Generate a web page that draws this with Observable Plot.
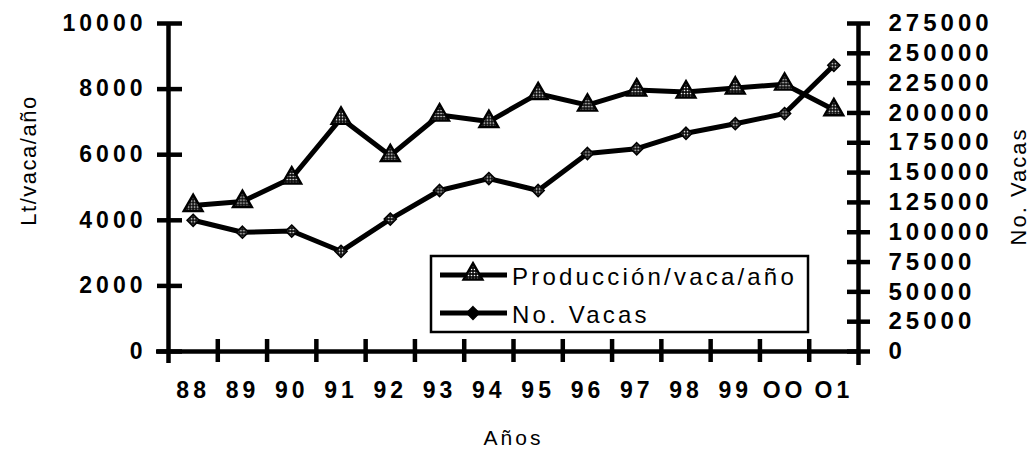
<!DOCTYPE html>
<html><head><meta charset="utf-8">
<script src="https://cdn.jsdelivr.net/npm/d3@7"></script>
<script src="https://cdn.jsdelivr.net/npm/@observablehq/plot@0.6"></script>
<style>
body{margin:0;background:#fff;}
#chart{width:1035px;height:449px;}
svg{font-family:"Liberation Sans",Arial,sans-serif;}
g[aria-label="y-axis tick label"] text, g[aria-label="x-axis tick label"] text{letter-spacing:4px;}
g[aria-description="ytitle"] text{letter-spacing:1.5px;}
g[aria-description="rtitle"] text{letter-spacing:2px;}
g[aria-description="xtitle"] text{letter-spacing:3px;}
</style></head><body><div id="chart"></div>
<script>
// ---- data ----
const years = ["88","89","90","91","92","93","94","95","96","97","98","99","OO","O1"];
const produccion = [4450,4570,5290,7110,5970,7210,7010,7860,7510,7970,7910,8030,8150,7370];
const vacas = [110000,100000,101000,84000,111000,135000,145000,135000,166000,170000,183000,191000,199500,240000];
const leftTicks = [0,2000,4000,6000,8000,10000];
const rightTicks = [0,25000,50000,75000,100000,125000,150000,175000,200000,225000,250000,275000];
const seriesNames = ["Producción/vaca/año","No. Vacas"];
const leftTitle = "Lt/vaca/año", rightTitle = "No. Vacas", xTitle = "Años";

const leftMax = 10000, rightMax = 275000;
const ratio = rightMax / leftMax;
const rows = years.map((y, i) => ({i, year: y, prod: produccion[i], vac: vacas[i] / ratio}));
const bounds = d3.range(years.length + 1).map(k => k - 0.5);

const diamond = {draw(ctx, size){const r = Math.sqrt(size/2); ctx.moveTo(0,-r); ctx.lineTo(r,0); ctx.lineTo(0,r); ctx.lineTo(-r,0); ctx.closePath();}};
const AX = 4.5;

const chart = Plot.plot({
  width: 1035, height: 449,
  marginLeft: 168, marginRight: 177, marginTop: 23, marginBottom: 98,
  x: {type: "linear", domain: [-0.5, years.length - 0.5], axis: null, label: null},
  y: {domain: [0, leftMax], axis: null, label: null},
  style: {background: "#fff", color: "#000", overflow: "visible"},
  marks: [
    Plot.ruleY([0], {stroke: "#000", strokeWidth: AX, insetLeft: -12, insetRight: -2}),
    Plot.ruleX([-0.5], {y1: leftMax, y2: 0, stroke: "#000", strokeWidth: AX, insetBottom: -12, insetTop: -1}),
    Plot.ruleX([years.length - 0.5], {y1: leftMax, y2: 0, stroke: "#000", strokeWidth: AX, insetBottom: -14, insetTop: -1}),
    Plot.axisY(leftTicks, {anchor: "left", label: null, tickSize: 25, dx: 14, tickPadding: 11, strokeWidth: AX,
      fontSize: 23, fontWeight: "bold", tickFormat: d => String(d)}),
    Plot.axisY(rightTicks.map(v => v / ratio), {anchor: "right", label: null, tickSize: 23, dx: -12, tickPadding: 19, strokeWidth: AX,
      fontSize: 24, fontWeight: "bold", tickFormat: d => String(Math.round(d * ratio))}),
    Plot.axisX(bounds.slice(1, -1), {anchor: "bottom", label: null, tickSize: 23, dy: -12, strokeWidth: AX, tickFormat: () => ""}),
    Plot.axisX(d3.range(years.length), {anchor: "bottom", label: null, tickSize: 0, tickPadding: 30,
      fontSize: 23, fontWeight: "bold", tickFormat: i => years[i]}),
    Plot.line(rows, {x: "i", y: "prod", stroke: "#000", strokeWidth: 5}),
    Plot.line(rows, {x: "i", y: "vac", stroke: "#000", strokeWidth: 5}),
    Plot.dot(rows, {x: "i", y: "vac", symbol: diamond, r: 4.8, fill: "url(#dots)", stroke: "#000", strokeWidth: 1.6}),
    Plot.dot(rows, {x: "i", y: "prod", symbol: "triangle", r: 7, fill: "url(#dots)", stroke: "#000", strokeWidth: 2.4}),
    Plot.text([leftTitle], {frameAnchor: "left", textAnchor: "middle", rotate: -90, dx: -140, dy: -27, fontSize: 22, ariaDescription: "ytitle"}),
    Plot.text([rightTitle], {frameAnchor: "right", textAnchor: "middle", rotate: -90, dx: 160, dy: -1, fontSize: 22, ariaDescription: "rtitle"}),
    Plot.text([xTitle], {frameAnchor: "bottom", textAnchor: "middle", dy: 93, fontSize: 21, ariaDescription: "xtitle"})
  ]
});

const svg = d3.select(chart);
const pat = svg.insert("defs", ":first-child").append("pattern")
  .attr("id", "dots").attr("width", 3).attr("height", 3).attr("patternUnits", "userSpaceOnUse");
pat.append("rect").attr("width", 3).attr("height", 3).attr("fill", "#111");
pat.append("circle").attr("cx", 1.5).attr("cy", 1.5).attr("r", 0.8).attr("fill", "#fff");

// legend
const lg = svg.append("g").attr("aria-label", "legend");
lg.append("rect").attr("x", 431).attr("y", 256).attr("width", 377).attr("height", 76)
  .attr("fill", "#fff").attr("stroke", "#000").attr("stroke-width", 2.5);
const rowsY = [275, 313];
rowsY.forEach((yy, k) => {
  lg.append("line").attr("x1", 440).attr("x2", 507).attr("y1", yy).attr("y2", yy)
    .attr("stroke", "#000").attr("stroke-width", 5);
  if (k === 0) {
    lg.append("path").attr("transform", `translate(473,${yy - 1})`)
      .attr("d", d3.symbol(d3.symbolTriangle, Math.PI * 49)())
      .attr("fill", "url(#dots)").attr("stroke", "#000").attr("stroke-width", 2.4);
  } else {
    lg.append("path").attr("transform", `translate(473,${yy})`)
      .attr("d", d3.symbol(diamond, 80)())
      .attr("fill", "#000").attr("stroke", "#000").attr("stroke-width", 1.5);
  }
  lg.append("text").attr("x", 512).attr("y", yy + 1).attr("dominant-baseline", "central")
    .attr("text-anchor", "start").attr("font-size", 24).attr("letter-spacing", "3.2px")
    .attr("fill", "#000").text(seriesNames[k]);
});

document.getElementById("chart").append(chart);
</script></body></html>
